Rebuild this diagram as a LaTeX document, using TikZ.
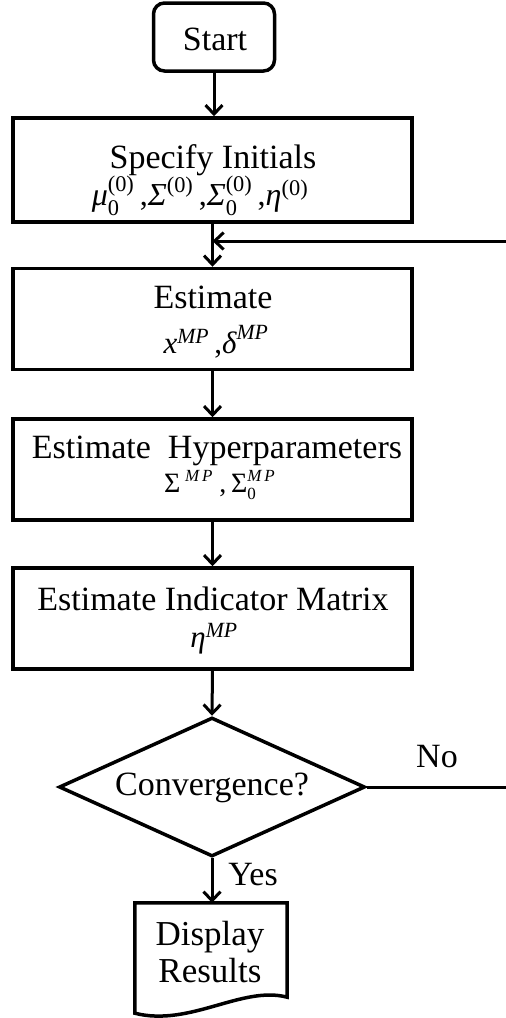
\documentclass[tikz,border=0pt]{standalone}
\usepackage{amsmath}
\usepackage{fontspec}
\setmainfont{Liberation Serif}
\usetikzlibrary{arrows.meta,shapes.geometric,calc}
\newcommand{\tx}[1]{\text{\itshape #1}}
\newcommand{\tu}[1]{\text{#1}}
\newcommand{\supmp}{\raisebox{11pt}{\fontsize{17}{18}\selectfont\itshape M\,P}}
\begin{document}
\begin{tikzpicture}[x=1pt,y=-1pt,
  box/.style={draw, line width=3.5pt, minimum width=399pt, minimum height=101pt, inner sep=0pt},
  conn/.style={line width=3pt, -{Straight Barb[length=9pt,width=17pt,line width=3pt]}},
  plain/.style={line width=3pt},
  txt/.style={anchor=base, inner sep=0pt, font=\fontsize{34}{36}\selectfont},
  lbl/.style={anchor=base, font=\fontsize{34}{36}\selectfont, inner sep=0pt}]
\useasboundingbox (0,0) rectangle (506,1018);
% boxes
\node[draw, line width=3.5pt, rounded corners=11pt, minimum width=121pt, minimum height=68pt, inner sep=0pt] (start) at (214,37) {};
\node[box, minimum height=104pt] (spec) at (212.5,170) {};
\node[box] (est) at (212.5,319) {};
\node[box] (hyp) at (212.5,469.5) {};
\node[box] (ind) at (212.5,618.5) {};
\node[diamond, draw, line width=3.5pt, minimum width=306pt, minimum height=139pt, inner sep=0pt, shape aspect=2.2] (conv) at (212,787) {};
\node[minimum width=152pt, minimum height=110pt, inner sep=0pt] (disp) at (211,958) {};
\draw[line width=3.5pt, line join=miter] (disp.south west) -- (disp.north west) -- (disp.north east) -- ([yshift=16pt]disp.south east)
  .. controls ([xshift=-45pt,yshift=28pt]disp.south east) and ([xshift=55pt,yshift=-14pt]disp.south west) .. (disp.south west) -- cycle;
% texts
\node[txt] (starttx) at (215,50) {Start};
\node[txt] (spectx) at (213,168) {Specify Initials};
\node[txt, font=\fontsize{32}{34}\selectfont] (specm) at (200,205) {$\tx{μ}_{\tu{0}}^{\tu{(0)}}\tu{\,,}\tx{Σ}^{\tu{(0)}}\tu{\,,}\tx{Σ}_{\tu{0}}^{\tu{(0)}}\tu{\,,}\tx{η}^{\tu{(0)}}$};
\node[txt] (esttx) at (213,308) {Estimate};
\node[txt, font=\fontsize{31}{33}\selectfont] (estm) at (216,353) {$\tx{x}^{\tx{MP}}\tu{\,,}\tx{δ}^{\tx{MP}}$};
\node[txt] (hyptx) at (217,458) {Estimate\ \ Hyperparameters};
\node[txt, font=\fontsize{28}{30}\selectfont] (hypm) at (210,492) {Σ\,\supmp\ ,\,Σ\rlap{\supmp}\raisebox{-7pt}{\fontsize{17}{18}\selectfont 0}\hspace{20pt}};
\node[txt] (indtx) at (213,610) {Estimate Indicator Matrix};
\node[txt, font=\fontsize{31}{33}\selectfont] (indm) at (214,647) {$\tx{η}^{\tx{MP}}$};
\node[txt] (convtx) at (212,795) {Convergence?};
\node[txt, font=\fontsize{35}{37}\selectfont] (disptx1) at (210,945) {Display};
\node[txt, font=\fontsize{35}{37}\selectfont] (disptx2) at (210,982) {Results};
% connectors
\coordinate (join) at (212.5,241);
\coordinate (fbin) at (506,241);
\coordinate (noout) at (506,787);
\draw[conn] (start.south) -- (start.south |- spec.north);
\draw[conn] (spec.south) -- (est.north);
\draw[conn] (fbin) -- (join);
\draw[conn] (est.south) -- (hyp.north);
\draw[conn] (hyp.south) -- (ind.north);
\draw[conn] (ind.south) -- (conv.north);
\draw[conn] (conv.south) -- (conv.south |- disp.north);
\draw[plain] (conv.east) -- (noout);
\node[lbl] (no) at (437,767) {No};
\node[lbl] (yes) at (253,885) {Yes};
\end{tikzpicture}
\end{document}
